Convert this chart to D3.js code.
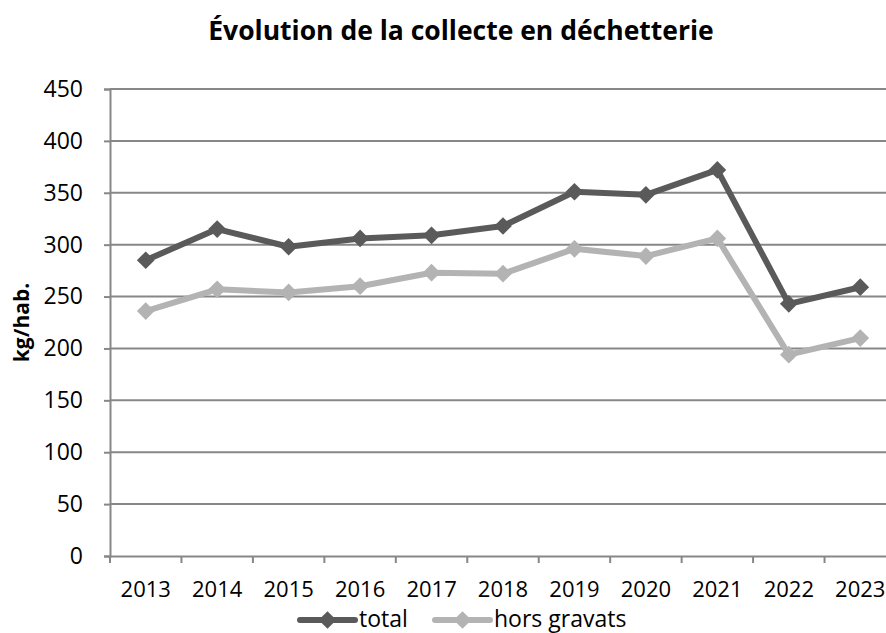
<!DOCTYPE html>
<html lang="fr">
  <head>
    <meta charset="utf-8">
    <title>Évolution de la collecte en déchetterie</title>
    <script src="https://d3js.org/d3.v7.min.js"></script>
    <style>
      body { margin: 0; background: #fff; }
      text { font-family: "Open Sans", "Liberation Sans", sans-serif; }
    </style>
  </head>
  <body>
    <div id="chart"></div>
    <script>
    // data
    var years = ["2013", "2014", "2015", "2016", "2017", "2018", "2019", "2020", "2021", "2022", "2023"];
    var total = [285, 315, 298, 306, 309, 318, 351, 348, 372, 243, 259];
    var horsGravats = [236, 257, 254, 260, 273, 272, 296, 289, 306, 194, 210];
    var yTicks = [0, 50, 100, 150, 200, 250, 300, 350, 400, 450];

    var width = 886, height = 633;
    // the plot runs a little past the right edge, as in the original
    var margin = {top: 89, left: 110, bottom: 77, right: -10};

    var svg = d3.select("#chart").append("svg")
      .attr("width", width)
      .attr("height", height);

    var x = d3.scaleBand()
      .domain(years)
      .range([margin.left, width - margin.right]);

    var y = d3.scaleLinear()
      .domain([0, 450])
      .range([height - margin.bottom, margin.top]);

    // gridlines
    svg.append("g")
      .selectAll("line")
      .data(yTicks.slice(1))
      .enter()
      .append("line")
        .attr("x1", margin.left)
        .attr("x2", width)
        .attr("y1", function(d){ return y(d) })
        .attr("y2", function(d){ return y(d) })
        .attr("stroke", "#878787")
        .attr("stroke-width", 2);

    // y axis
    var yAxis = svg.append("g")
      .attr("transform", "translate(" + margin.left + ",0)")
      .call(d3.axisLeft(y).tickValues(yTicks).tickSize(6).tickPadding(21));
    yAxis.select(".domain").attr("stroke", "#878787").attr("stroke-width", 2);
    yAxis.selectAll(".tick line").attr("stroke", "#878787").attr("stroke-width", 2);
    yAxis.selectAll(".tick text")
      .attr("font-size", "23px")
      .attr("fill", "#000")
      .style("font-family", "'Open Sans', sans-serif");

    // x axis
    var xAxis = svg.append("g")
      .attr("transform", "translate(0," + y(0) + ")")
      .call(d3.axisBottom(x).tickSize(0).tickPadding(25));
    xAxis.select(".domain").attr("stroke", "#878787").attr("stroke-width", 2);
    xAxis.selectAll(".tick text")
      .attr("font-size", "22px")
      .attr("fill", "#000")
      .style("font-family", "'Open Sans', sans-serif");

    // category separator ticks
    svg.append("g")
      .selectAll("line")
      .data(years)
      .enter()
      .append("line")
        .attr("x1", function(d){ return x(d) })
        .attr("x2", function(d){ return x(d) })
        .attr("y1", y(0))
        .attr("y2", y(0) + 7)
        .attr("stroke", "#878787")
        .attr("stroke-width", 2);

    var series = [
      {name: "total", values: total, color: "#5a5a5a"},
      {name: "hors gravats", values: horsGravats, color: "#b3b3b3"}
    ];

    var line = d3.line()
      .x(function(d, i){ return x(years[i]) + x.bandwidth() / 2 })
      .y(function(d){ return y(d) });

    var diamond = d3.symbol().type(d3.symbolDiamond2).size(200);

    // draw light series first so dark sits on top
    series.slice().reverse().forEach(function(s) {
      svg.append("path")
        .datum(s.values)
        .attr("d", line)
        .attr("fill", "none")
        .attr("stroke", s.color)
        .attr("stroke-width", 6)
        .attr("stroke-linejoin", "round");

      svg.append("g")
        .selectAll("path")
        .data(s.values)
        .enter()
        .append("path")
          .attr("d", diamond)
          .attr("transform", function(d, i){
            return "translate(" + (x(years[i]) + x.bandwidth() / 2) + "," + y(d) + ")";
          })
          .attr("fill", s.color);
    });

    // title
    svg.append("text")
      .attr("x", 461)
      .attr("y", 40)
      .attr("text-anchor", "middle")
      .attr("font-size", "26.5px")
      .attr("font-weight", "bold")
      .text("Évolution de la collecte en déchetterie");

    // y label
    svg.append("text")
      .attr("transform", "translate(29," + ((y(0) + y(450)) / 2) + ") rotate(-90)")
      .attr("text-anchor", "middle")
      .attr("font-size", "21px")
      .attr("font-weight", "bold")
      .text("kg/hab.");

    // legend
    var legendPos = [300, 435];
    series.forEach(function(s, i) {
      var lx = legendPos[i], ly = 620;
      svg.append("line")
        .attr("x1", lx).attr("x2", lx + 55)
        .attr("y1", ly).attr("y2", ly)
        .attr("stroke", s.color)
        .attr("stroke-width", 6)
        .attr("stroke-linecap", "round");
      svg.append("path")
        .attr("d", diamond)
        .attr("transform", "translate(" + (lx + 27.5) + "," + ly + ")")
        .attr("fill", s.color);
      svg.append("text")
        .attr("x", lx + 59)
        .attr("y", 627)
        .attr("font-size", "23px")
        .text(s.name);
    });
    </script>
  </body>
</html>
